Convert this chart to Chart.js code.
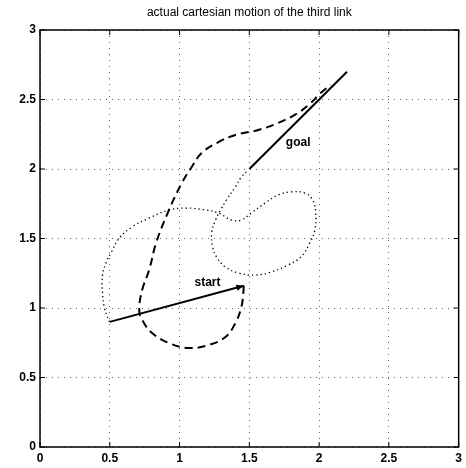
<!DOCTYPE html>
<html>
<head>
<meta charset="utf-8">
<script src="https://cdn.jsdelivr.net/npm/chart.js@4"></script>
<style>
  body { margin: 0; background: #fff; }
  canvas { display: block; }
</style>
</head>
<body>
<canvas id="myChart" width="466" height="468"></canvas>
<script>
const ctx = document.getElementById('myChart');

// axis ticks
const tickValues = [0, 0.5, 1, 1.5, 2, 2.5, 3];

// solid link at start and goal
const startX = [0.5, 1.46];
const startY = [0.9, 1.16];
const goalX = [1.5, 2.2];
const goalY = [2.0, 2.7];

// dashed path
const dashX = [1.46, 1.457, 1.443, 1.40, 1.329, 1.208, 1.066, 0.924, 0.803, 0.732, 0.711, 0.732, 0.782, 0.832, 0.924, 1.016, 1.087, 1.158, 1.279, 1.40, 1.564, 1.706, 1.848, 1.94, 2.011, 2.082];
const dashY = [1.16, 1.108, 1.007, 0.892, 0.791, 0.734, 0.712, 0.748, 0.82, 0.914, 0.986, 1.129, 1.273, 1.468, 1.705, 1.899, 2.014, 2.115, 2.194, 2.245, 2.281, 2.331, 2.403, 2.475, 2.547, 2.604];

// dotted path
const dotX = [0.498, 0.462, 0.448, 0.448, 0.476, 0.512, 0.569, 0.661, 0.782, 0.924, 1.045, 1.187, 1.279, 1.372, 1.443, 1.514, 1.613, 1.706, 1.798, 1.898, 1.954, 1.976, 1.969, 1.933, 1.869, 1.777, 1.656, 1.542, 1.421, 1.329, 1.265, 1.237, 1.23, 1.258, 1.294, 1.336, 1.40, 1.443, 1.493];
const dotY = [0.899, 1.0, 1.115, 1.237, 1.331, 1.403, 1.504, 1.583, 1.647, 1.705, 1.719, 1.705, 1.683, 1.633, 1.633, 1.683, 1.755, 1.813, 1.835, 1.827, 1.777, 1.683, 1.561, 1.468, 1.367, 1.309, 1.259, 1.237, 1.252, 1.295, 1.367, 1.439, 1.54, 1.633, 1.705, 1.777, 1.871, 1.942, 1.993];

// text labels
const labels = [
    { text: 'start', x: 1.20, y: 1.18 },
    { text: 'goal', x: 1.85, y: 2.19 }
];

const toPts = (xs, ys) => xs.map((x, i) => ({ x: x, y: ys[i] }));

const fontName = '"Liberation Sans", Arial, Helvetica, sans-serif';

const frame = {
    id: 'frame',
    afterDraw(chart) {
        const c = chart.ctx;
        const a = chart.chartArea;
        const xs = chart.scales.x, ys = chart.scales.y;
        c.save();
        c.strokeStyle = '#000';
        c.lineWidth = 1.5;
        c.strokeRect(a.left, a.top, a.right - a.left, a.bottom - a.top);
        // inward ticks
        c.lineWidth = 1;
        c.beginPath();
        tickValues.forEach(v => {
            const px = xs.getPixelForValue(v);
            c.moveTo(px, a.bottom); c.lineTo(px, a.bottom - 5);
            c.moveTo(px, a.top); c.lineTo(px, a.top + 5);
            const py = ys.getPixelForValue(v);
            c.moveTo(a.left, py); c.lineTo(a.left + 5, py);
            c.moveTo(a.right, py); c.lineTo(a.right - 5, py);
        });
        c.stroke();
        // arrow head at end of start link
        const x0 = xs.getPixelForValue(startX[0]), y0 = ys.getPixelForValue(startY[0]);
        const x1 = xs.getPixelForValue(startX[1]), y1 = ys.getPixelForValue(startY[1]);
        const ang = Math.atan2(y1 - y0, x1 - x0);
        c.fillStyle = '#000';
        c.beginPath();
        c.moveTo(x1, y1);
        c.lineTo(x1 - 8 * Math.cos(ang - 0.4), y1 - 8 * Math.sin(ang - 0.4));
        c.lineTo(x1 - 8 * Math.cos(ang + 0.4), y1 - 8 * Math.sin(ang + 0.4));
        c.closePath();
        c.fill();
        // text labels
        c.font = 'bold 12px ' + fontName;
        c.textAlign = 'center';
        c.textBaseline = 'middle';
        labels.forEach(l => {
            c.fillText(l.text, xs.getPixelForValue(l.x), ys.getPixelForValue(l.y));
        });
        c.restore();
    }
};

const myChart = new Chart(ctx, {
    type: 'scatter',
    plugins: [frame],
    data: {
        datasets: [
            {
                data: toPts(dotX, dotY),
                showLine: true,
                borderColor: '#000',
                borderWidth: 1.3,
                borderDash: [1.3, 3],
                pointRadius: 0,
                tension: 0.4
            },
            {
                data: toPts(dashX, dashY),
                showLine: true,
                borderColor: '#000',
                borderWidth: 2,
                borderDash: [8, 5],
                pointRadius: 0,
                tension: 0.4
            },
            {
                data: toPts(startX, startY),
                showLine: true,
                borderColor: '#000',
                borderWidth: 2,
                pointRadius: 0
            },
            {
                data: toPts(goalX, goalY),
                showLine: true,
                borderColor: '#000',
                borderWidth: 2,
                pointRadius: 0
            }
        ]
    },
    options: {
        responsive: false,
        animation: false,
        layout: { padding: { left: 0, right: 4, top: 0, bottom: 0 } },
        plugins: {
            legend: { display: false },
            tooltip: { enabled: false },
            title: {
                display: true,
                fullSize: false,
                text: 'actual cartesian motion of the third link',
                color: '#000',
                font: { family: fontName, size: 12, weight: 'normal' },
                padding: { top: 5, bottom: 10.6 }
            }
        },
        scales: {
            x: {
                type: 'linear',
                min: 0, max: 3,
                afterBuildTicks: s => { s.ticks = tickValues.map(v => ({ value: v })); },
                afterFit: s => { s.height = 21; },
                ticks: {
                    color: '#000',
                    padding: 4,
                    maxRotation: 0,
                    callback: v => String(v),
                    font: { family: fontName, size: 12, weight: 'bold' }
                },
                grid: {
                    color: 'rgba(0,0,0,0.6)',
                    lineWidth: 1,
                    drawTicks: false
                },
                border: { display: false, dash: [1, 5] }
            },
            y: {
                type: 'linear',
                min: 0, max: 3,
                afterBuildTicks: s => { s.ticks = tickValues.map(v => ({ value: v })); },
                afterFit: s => { s.width = 40; },
                ticks: {
                    color: '#000',
                    padding: 4,
                    callback: v => String(v),
                    font: { family: fontName, size: 12, weight: 'bold' }
                },
                grid: {
                    color: 'rgba(0,0,0,0.6)',
                    lineWidth: 1,
                    drawTicks: false
                },
                border: { display: false, dash: [1, 5] }
            }
        }
    }
});
</script>
</body>
</html>
